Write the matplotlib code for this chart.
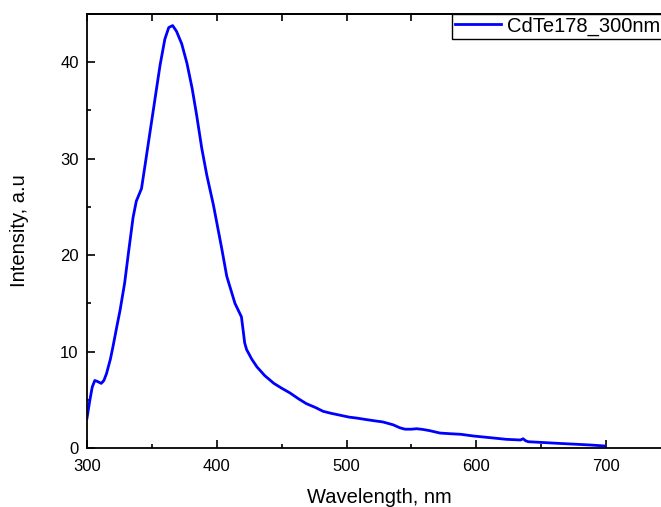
import matplotlib.pyplot as plt
from matplotlib.ticker import MultipleLocator

# Data
wavelength = [300, 302, 304, 306, 308, 311, 313, 315, 318, 320, 323, 325.5, 329, 332,
              335.5, 338, 342, 344.7, 348.6, 352.4, 356.3, 360, 363, 366, 369, 373,
              377, 381, 384.5, 388.4, 392.3, 397.4, 403.8, 407.7, 414, 419, 420.5,
              421.5, 423, 427, 431, 437, 444, 450, 456.5, 463, 469, 476, 482, 488,
              495, 502, 508, 515, 521, 528, 536, 541, 545, 550, 554, 559, 564, 572,
              580, 588, 598, 610, 623, 634, 636, 638, 640, 650, 662, 675, 688, 699]
intensity = [3.1, 4.8, 6.3, 7.0, 6.9, 6.7, 7.0, 7.7, 9.2, 10.5, 12.6, 14.3, 17.1, 20.3,
             23.9, 25.6, 26.9, 29.3, 32.8, 36.2, 39.7, 42.4, 43.6, 43.8, 43.2, 41.9,
             39.9, 37.3, 34.5, 31.1, 28.3, 25.2, 20.7, 17.8, 15.0, 13.6, 12.0,
             10.9, 10.2, 9.2, 8.4, 7.5, 6.7, 6.2, 5.7, 5.1, 4.6, 4.2, 3.8, 3.6,
             3.4, 3.2, 3.1, 2.95, 2.83, 2.7, 2.4, 2.1, 1.95, 1.95, 2.0, 1.92, 1.8, 1.55,
             1.48, 1.42, 1.24, 1.08, 0.9, 0.83, 0.96, 0.75, 0.65, 0.58, 0.49, 0.40, 0.31, 0.21]
series_name = "CdTe178_300nm"

plt.rcParams['font.family'] = ['Liberation Sans', 'DejaVu Sans']

fig = plt.figure(figsize=(6.61, 5.07), dpi=100)
# axes run past the right edge of the picture, as in the original
ax = fig.add_axes([87 / 661, 59 / 507, 584 / 661, 434 / 507])

ax.plot(wavelength, intensity, color='#0000ff', lw=2.0, label=series_name,
        solid_joinstyle='round')

ax.set_xlim(300, 750)
ax.set_ylim(0, 45)
ax.xaxis.set_major_locator(MultipleLocator(100))
ax.xaxis.set_minor_locator(MultipleLocator(50))
ax.yaxis.set_major_locator(MultipleLocator(10))
ax.yaxis.set_minor_locator(MultipleLocator(5))
ax.tick_params(which='both', direction='in', width=1.2, labelsize=12, pad=6)
ax.tick_params(which='major', length=6)
ax.tick_params(which='minor', length=3)
ax.tick_params(axis='x', pad=8)

# top axis: small ticks every 50 nm, no labels
top = ax.secondary_xaxis('top')
top.xaxis.set_major_locator(MultipleLocator(50))
top.tick_params(direction='in', length=5, width=1.2, labeltop=False)
top.spines['top'].set_linewidth(1.3)

for s in ax.spines.values():
    s.set_linewidth(1.3)

ax.set_xlabel('Wavelength, nm', fontsize=14.5, labelpad=10)
ax.set_ylabel('Intensity, a.u', fontsize=14.5, labelpad=22)

leg = ax.legend(loc='upper left', bbox_to_anchor=(452 / 661, 1 - 13.5 / 507),
                bbox_transform=fig.transFigure, borderaxespad=0, fontsize=14.5,
                fancybox=False, framealpha=1, edgecolor='black', borderpad=0.15,
                handlelength=2.3, handletextpad=0.3)
leg.get_frame().set_linewidth(1.0)

plt.savefig('out.png', dpi=100)
